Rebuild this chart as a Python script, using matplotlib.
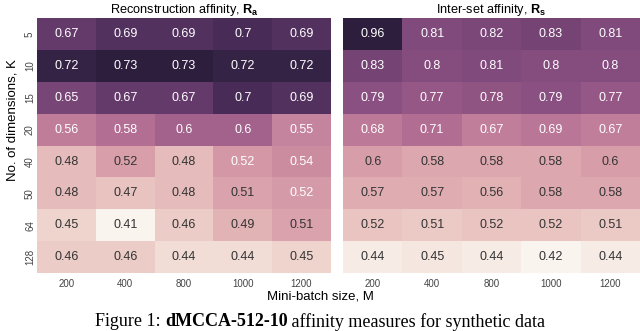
import numpy as np
import matplotlib
matplotlib.use("Agg")
import matplotlib.pyplot as plt
import seaborn as sns

# mini-batch sizes (columns) and dimensions (rows)
batch_sizes = [200, 400, 800, 1000, 1200]
dims = [5, 10, 15, 20, 40, 50, 64, 128]

# reconstruction affinity R_a
recon = [
    [0.67, 0.69, 0.69, 0.70, 0.69],
    [0.72, 0.73, 0.73, 0.72, 0.72],
    [0.65, 0.67, 0.67, 0.70, 0.69],
    [0.56, 0.58, 0.60, 0.60, 0.55],
    [0.48, 0.516, 0.48, 0.524, 0.54],
    [0.48, 0.47, 0.48, 0.51, 0.522],
    [0.45, 0.41, 0.46, 0.49, 0.51],
    [0.46, 0.46, 0.44, 0.44, 0.45],
]

# inter-set affinity R_s
interset = [
    [0.96, 0.81, 0.82, 0.83, 0.81],
    [0.83, 0.80, 0.81, 0.80, 0.80],
    [0.79, 0.77, 0.78, 0.79, 0.77],
    [0.68, 0.71, 0.67, 0.69, 0.67],
    [0.60, 0.58, 0.58, 0.58, 0.60],
    [0.57, 0.57, 0.56, 0.58, 0.58],
    [0.52, 0.51, 0.52, 0.52, 0.51],
    [0.44, 0.45, 0.44, 0.42, 0.44],
]

titles = ["Reconstruction affinity, $\\mathbf{R_a}$", "Inter-set affinity, $\\mathbf{R_s}$"]

plt.rcParams["font.family"] = ["Liberation Sans", "DejaVu Sans"]
plt.rcParams["mathtext.fontset"] = "custom"
plt.rcParams["mathtext.rm"] = "Liberation Sans"
plt.rcParams["mathtext.bf"] = "Liberation Sans:bold"

cmap = sns.cubehelix_palette(light=0.96, dark=0.15, as_cmap=True)

fig = plt.figure(figsize=(6.4, 3.31), dpi=100)
axes = [fig.add_axes([0.058, 0.175, 0.459, 0.770]),
        fig.add_axes([0.536, 0.175, 0.464, 0.770])]

for ax, data, title in zip(axes, [recon, interset], titles):
    arr = np.array(data)
    sns.heatmap(arr, ax=ax, cmap=cmap, cbar=False, annot=False,
                xticklabels=batch_sizes, yticklabels=dims)
    lo, hi = arr.min(), arr.max()
    for i in range(arr.shape[0]):
        for j in range(arr.shape[1]):
            v = arr[i, j]
            col = "white" if (v - lo) / (hi - lo) > 0.34 else "#333333"
            ax.text(j + 0.5, i + 0.5, format(v, ".2g"), ha="center", va="center",
                    fontsize=9, color=col)
    ax.set_title(title, fontsize=9.2, pad=3)
    ax.tick_params(length=0, labelsize=7, colors="#444444")
    ax.tick_params(axis="x", pad=4)
    ax.tick_params(axis="y", pad=1.5)
    plt.setp(ax.get_yticklabels(), rotation=90, va="center")
    plt.setp(ax.get_xticklabels(), rotation=0)

axes[1].set_yticklabels([])
axes[0].set_ylabel("No. of dimensions, K", fontsize=9.5)
axes[0].yaxis.set_label_coords(-0.065, 0.60)
fig.text(0.5, 0.105, "Mini-batch size, M", ha="center", va="center", fontsize=9.5)

# caption with a bold run in the middle
parts = [("Figure 1: ", "normal"), ("dMCCA-512-10", "bold"), (" affinity measures for synthetic data", "normal")]
fig.canvas.draw()
r = fig.canvas.get_renderer()
texts = [fig.text(0, 0.028, s, fontsize=13, fontweight=w, family="Liberation Serif", va="center")
         for s, w in parts]
widths = [t.get_window_extent(r).width for t in texts]
x = (fig.bbox.width - sum(widths)) / 2
for t, w in zip(texts, widths):
    t.set_x(x / fig.bbox.width)
    x += w

fig.savefig("out.png", dpi=100)
